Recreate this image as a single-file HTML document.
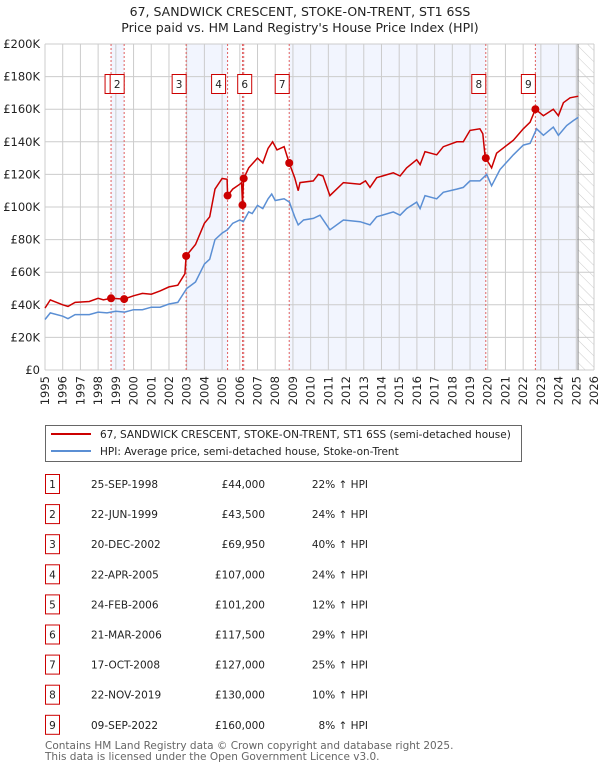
<!DOCTYPE html>
<html><head><meta charset="utf-8"><style>
body{margin:0;background:#fff;}
svg{display:block;font-family:"DejaVu Sans","Liberation Sans",sans-serif;}
</style></head><body>
<svg id="c" width="600" height="770" viewBox="0 0 600 770" xmlns="http://www.w3.org/2000/svg">
<text x="300" y="16" text-anchor="middle" font-size="12.5" fill="#222">67, SANDWICK CRESCENT, STOKE-ON-TRENT, ST1 6SS</text>
<text x="300" y="32" text-anchor="middle" font-size="12.5" fill="#222">Price paid vs. HM Land Registry's House Price Index (HPI)</text>
<g id="bands"></g><g id="grid"></g><g id="marks"></g><g id="axes"></g>
<g>
<rect x="45.5" y="425.5" width="476" height="36" fill="#fff" stroke="#666"/>
<line x1="51" y1="434" x2="91" y2="434" stroke="#cc0000" stroke-width="2"/>
<text x="100" y="438" font-size="10.5" fill="#222">67, SANDWICK CRESCENT, STOKE-ON-TRENT, ST1 6SS (semi-detached house)</text>
<line x1="51" y1="451" x2="91" y2="451" stroke="#5b8fd4" stroke-width="2"/>
<text x="100" y="455" font-size="10.5" fill="#222">HPI: Average price, semi-detached house, Stoke-on-Trent</text>
</g>
<g id="table"></g>
<text x="45" y="749" font-size="10.5" fill="#666">Contains HM Land Registry data © Crown copyright and database right 2025.</text>
<text x="45" y="760" font-size="10.5" fill="#666">This data is licensed under the Open Government Licence v3.0.</text>
</svg>
<script>
const hpiYears=[1995,1995.3,1996,1996.3,1996.7,1997.5,1998,1998.5,1999,1999.5,2000,2000.5,2001,2001.5,2002,2002.5,2003,2003.5,2004,2004.3,2004.6,2005,2005.3,2005.6,2006,2006.2,2006.5,2006.7,2007,2007.3,2007.6,2007.8,2008,2008.5,2008.8,2009.1,2009.3,2009.6,2010.15,2010.53,2011.09,2011.85,2012.79,2013.35,2013.73,2014.67,2015.05,2015.42,2015.99,2016.18,2016.46,2017.12,2017.49,2018.25,2018.62,2019.0,2019.56,2019.94,2020.22,2020.69,2021.45,2022.01,2022.39,2022.76,2023.14,2023.7,2023.99,2024.46,2024.83,2025.12];
const hpiValues=[31,35,33,31.5,34,34,35.5,35,36,35.5,37,37,38.5,38.5,40.5,41.5,50,54,65,68,80,84,86,90,92,91,97,96,101,99,105,108,104,105,103,94,89,92,93,95,86,92,91,89,94,97,95,99,103,99,107,105,109,111,112,116,116,120,113,123,132,138,139,148,144,149,144,150,153,155];
const priceYears=[1995,1995.3,1996,1996.3,1996.7,1997.5,1998,1998.3,1998.73,1999.47,2000,2000.5,2001,2001.5,2002,2002.5,2002.9,2002.97,2003.5,2004,2004.3,2004.6,2005,2005.28,2005.31,2005.6,2006,2006.1,2006.15,2006.2,2006.22,2006.5,2007,2007.3,2007.6,2007.85,2008.1,2008.5,2008.79,2009.1,2009.3,2009.4,2010.15,2010.43,2010.7,2011.09,2011.85,2012.79,2013.1,2013.35,2013.73,2014.67,2015.05,2015.42,2015.99,2016.18,2016.46,2017.12,2017.49,2018.25,2018.62,2019.0,2019.56,2019.72,2019.85,2019.89,2020.22,2020.5,2021.45,2022.01,2022.39,2022.69,2023.14,2023.7,2023.99,2024.27,2024.65,2025.12];
const priceValues=[38,43,40,39,41.5,42,44,43,44,43.5,45.5,47,46.5,48.5,51,52,59,69.95,77,90,94,111,117.5,117,107,111,114,115,101.2,114,117.5,124,130,127,136,140,135,137,127,118,110,115,116,120,119,107,115,114,116,112,118,121,119,124,129,126,134,132,137,140,140,147,148,145,131,130,124,133,141,148,152,160,156,160,156,164,167,168];
const saleLabels=["1","2","3","4","5","6","7","8","9"];
const saleYears=[1998.73,1999.47,2002.97,2005.31,2006.15,2006.22,2008.79,2019.89,2022.69];
const salePrices=[44,43.5,69.95,107,101.2,117.5,127,130,160];
const saleDates=["25-SEP-1998","22-JUN-1999","20-DEC-2002","22-APR-2005","24-FEB-2006","21-MAR-2006","17-OCT-2008","22-NOV-2019","09-SEP-2022"];
const salePriceText=["£44,000","£43,500","£69,950","£107,000","£101,200","£117,500","£127,000","£130,000","£160,000"];
const salePctText=["22% ↑ HPI","24% ↑ HPI","40% ↑ HPI","24% ↑ HPI","12% ↑ HPI","29% ↑ HPI","25% ↑ HPI","10% ↑ HPI","8% ↑ HPI"];
const yTicks=[0,20,40,60,80,100,120,140,160,180,200];
const yTickLabels=["£0","£20K","£40K","£60K","£80K","£100K","£120K","£140K","£160K","£180K","£200K"];
const xTicks=[1995,1996,1997,1998,1999,2000,2001,2002,2003,2004,2005,2006,2007,2008,2009,2010,2011,2012,2013,2014,2015,2016,2017,2018,2019,2020,2021,2022,2023,2024,2025,2026];
const dataEndYear=2025.1;

const NS="http://www.w3.org/2000/svg";
const L=45,R=594,T=44,B=370,X0=1995,X1=2026,YMAX=200;
const xs=y=>L+(y-X0)/(X1-X0)*(R-L);
const ys=v=>B-v/YMAX*(B-T);
function mk(tag,attrs,parent){const e=document.createElementNS(NS,tag);for(const k in attrs)e.setAttribute(k,attrs[k]);parent.appendChild(e);return e;}
const bands=document.getElementById('bands'),grid=document.getElementById('grid'),marks=document.getElementById('marks'),axes=document.getElementById('axes'),table=document.getElementById('table');
mk('rect',{x:L,y:T,width:R-L,height:B-T,fill:'#fff'},bands);
// shaded bands between alternating sales
const bandStarts=[0,2,4,6,8];
bandStarts.forEach(i=>{const a=saleYears[i];const b=i+1<saleYears.length?saleYears[i+1]:dataEndYear;
 const r=mk('rect',{x:xs(a),y:T,width:xs(b)-xs(a),height:B-T,fill:'#eef2fd',opacity:0.75},bands);
 
 });
// hatch future
const defs=mk('defs',{},bands);
const pat=mk('pattern',{id:'hatch',width:8,height:8,patternUnits:'userSpaceOnUse',patternTransform:'rotate(-45)'},defs);
mk('line',{x1:0,y1:0,x2:0,y2:8,stroke:'#ccc','stroke-width':1},pat);
const h=mk('rect',{x:xs(dataEndYear),y:T,width:R-xs(dataEndYear),height:B-T,fill:'url(#hatch)'},bands);


xTicks.forEach(t=>{const g=mk('line',{x1:xs(t),y1:T,x2:xs(t),y2:B,stroke:'#ccc','stroke-width':1},grid);
 
 
 const tx=mk('text',{x:0,y:0,transform:`translate(${xs(t)+4},${B+6}) rotate(-90)`,'text-anchor':'end','font-size':11.5,fill:'#222'},axes);
 tx.textContent=t;
 
 });
yTicks.forEach((t,i)=>{const g=mk('line',{x1:L,y1:ys(t),x2:R,y2:ys(t),stroke:'#ccc','stroke-width':1},grid);
 
 
 const tx=mk('text',{x:L-5,y:ys(t)+4,'text-anchor':'end','font-size':11.5,fill:'#222'},axes);
 tx.textContent=yTickLabels[i];
 
 });
const el=mk('line',{x1:xs(dataEndYear),y1:T,x2:xs(dataEndYear),y2:B,stroke:'#888','stroke-width':1},grid);


saleYears.forEach((y,i)=>{const v=mk('line',{x1:xs(y),y1:T,x2:xs(y),y2:B,stroke:'#e06060','stroke-width':1,'stroke-dasharray':'2,2'},grid);
 
 });
const hp=mk('path',{d:hpiYears.map((y,i)=>(i?'L':'M')+xs(y).toFixed(1)+','+ys(hpiValues[i]).toFixed(1)).join(''),fill:'none',stroke:'#5b8fd4','stroke-width':1.5},marks);


const pp=mk('path',{d:priceYears.map((y,i)=>(i?'L':'M')+xs(y).toFixed(1)+','+ys(priceValues[i]).toFixed(1)).join(''),fill:'none',stroke:'#cc0000','stroke-width':1.5},marks);


saleYears.forEach((y,i)=>{const c=mk('circle',{cx:xs(y),cy:ys(salePrices[i]),r:4,fill:'#cc0000'},marks);
 
 
 const bx=xs(y)-(i===3?9:(i===5||i===0?-1:7));
 const r=mk('rect',{x:bx-7,y:74.5,width:14,height:19,fill:'#fff',stroke:'#cc0000','stroke-width':1},marks);
 
 
 if(i===4){r.remove();return;}
 const t=mk('text',{x:bx,y:88,'text-anchor':'middle','font-size':10.5,fill:'#222'},marks);
 t.textContent=saleLabels[i];
 
 });
saleLabels.forEach((s,i)=>{const cy=484+i*30.1;
 const r=mk('rect',{x:45.5,y:cy-9.5,width:14,height:19,fill:'#fff',stroke:'#cc0000'},table);
 
 
 const n=mk('text',{x:52.5,y:cy+4,'text-anchor':'middle','font-size':10.5,fill:'#222'},table);n.textContent=s;
 
 
 const d=mk('text',{x:91,y:cy+4,'font-size':10.5,fill:'#222'},table);d.textContent=saleDates[i];
 
 
 const p=mk('text',{x:265,y:cy+4,'text-anchor':'end','font-size':10.5,fill:'#222'},table);p.textContent=salePriceText[i];
 
 
 const q=mk('text',{x:368,y:cy+4,'text-anchor':'end','font-size':10.5,fill:'#222'},table);q.textContent=salePctText[i];
 
 });
</script>
</body></html>
